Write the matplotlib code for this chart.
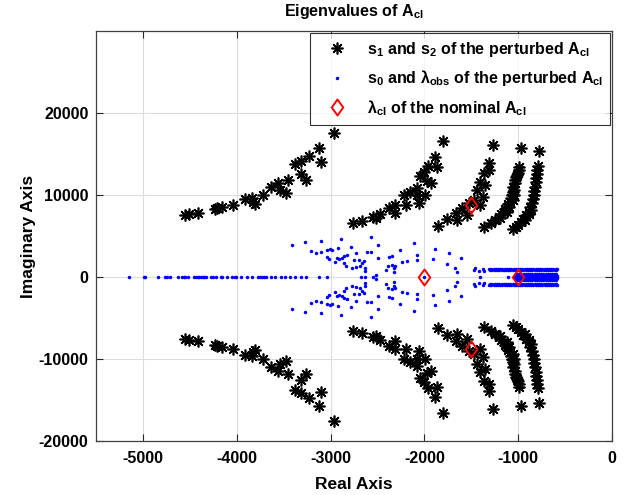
import numpy as np
import matplotlib
matplotlib.use("Agg")
import matplotlib.pyplot as plt
from matplotlib.path import Path

plt.rcParams['font.family'] = ['Liberation Sans', 'DejaVu Sans']
plt.rcParams['mathtext.fontset'] = 'custom'
plt.rcParams['mathtext.rm'] = 'Liberation Sans:bold'
plt.rcParams['mathtext.bf'] = 'Liberation Sans:bold'
plt.rcParams['mathtext.it'] = 'Liberation Sans:bold'
plt.rcParams['mathtext.default'] = 'bf'

# ---- s1, s2 of the perturbed A_cl (upper half; conjugates mirrored) ----
s12_re = [
    # branch A
    -4550, -4507, -4412, -4234, -4213, -4152, -4039, -3915, -3840, -3822, -3805,
    -3720, -3631, -3560, -3543, -3479, -3454, -3380, -3319, -3316, -3258, -3231,
    -3120, -3099, -2961,
    # branch B
    -2763, -2663, -2546, -2521, -2468, -2380, -2308, -2308, -2213, -2191, -2156,
    -2078, -2078, -2061, -2050, -2007, -1989, -1971, -1961, -1929, -1886, -1865,
    -1801,
    # branch C
    -1859, -1758, -1652, -1660, -1599, -1546, -1529, -1468, -1404, -1439, -1376,
    -1412, -1351, -1362, -1316, -1308, -1269,
    # branch D
    -1362, -1290, -1245, -1210, -1191, -1181, -1156, -1138, -1117, -1120, -1106,
    -1096, -1085, -1074, -1067, -1053, -1058, -1056, -1043, -1043, -1032, -1032,
    -1021, -1011, -997, -995, -989, -971,
    # branch E
    -1056, -1021, -997, -968, -944, -926, -915, -890, -883, -872, -862, -855,
    -846, -837, -830, -819, -814, -809, -803, -795, -793, -780,
]
s12_im = [
    7561, 7646, 7841, 8256, 8378, 8500, 8744, 9476, 9598, 9183, 8902,
    10000, 11012, 11427, 10610, 10207, 11829, 13744, 14183, 12561, 11829, 14756,
    15695, 14061, 17597,
    6622, 6866, 7354, 7159, 7683, 8378, 8780, 7841, 10000, 8780, 10402,
    10817, 10000, 8988, 12317, 12841, 10000, 11707, 13537, 11427, 14597, 13378,
    16585,
    6220, 7037, 6951, 7768, 8378, 7561, 9061, 9390, 8780, 10610, 9793,
    11622, 11220, 12646, 13049, 13939, 16097,
    6061, 6549, 6951, 7354, 7171, 7683, 7963, 8293, 7927, 8573, 8902,
    8537, 9183, 9634, 10000, 9390, 10366, 11012, 10610, 10000, 11463, 11829,
    12195, 12439, 12646, 13049, 13451, 15695,
    5817, 6098, 6341, 6707, 7037, 6951, 7561, 7963, 7683, 8537, 8171, 8988,
    9512, 10000, 10488, 11012, 11585, 12037, 12561, 13049, 13537, 15402,
]

# ---- s0 and lambda_obs: complex ones (upper half; conjugates mirrored) ----
obs_re = [
    -3412, -3276, -3106, -2894, -2574, -2114, -1883, -1741, -1610,
    -3205, -3159, -3106, -3042, -3007, -2982, -2922, -2787, -2734, -2617, -2564,
    -2497, -2497, -3035, -3018, -2936, -2912, -2875, -2858, -2830, -2957, -2858,
    -2840, -2769, -2734, -2688, -2663, -2646, -2638, -2628, -2752, -2699, -2380,
    -2344, -2255, -2078, -2078, -2184, -2237, -1907, -1758, -1670, -1652, -2390,
    -2344, -2308, -2327, -2404, -2327, -2521,
    -1476, -1457, -1422, -1376, -1362,
    # upper band near -1000
    -1316, -1290, -1262, -1240, -1215, -1190, -1168, -1142, -1120, -1095, -1072,
    -1050, -1026, -1003, -980, -955, -932, -908, -885, -860, -838, -815, -790,
    -766, -742, -718, -695, -672, -648, -625, -602, -588,
    -1300, -1275, -1250, -1226, -1203, -1178, -1155, -1130, -1108, -1083, -1060,
    -1038, -1014, -992, -968, -944, -920, -896, -872, -850, -826, -802, -778,
    -754, -730, -706, -684, -660, -636, -612, -592,
    # central blob
    -1032, -1010, -986, -962, -940, -916, -893, -870, -846, -822, -800, -776,
    -752, -730, -706, -683, -660, -636, -612, -590,
    -1020, -996, -972, -950, -926, -902, -880, -856, -832, -810, -786, -762,
    -740, -716, -692, -670, -646, -622, -598,
    -1015, -990, -966, -942, -918, -896, -872, -848, -826, -802, -778, -756,
    -732, -708, -686, -662, -638, -614, -592,
]
obs_im = [
    3939, 4232, 4390, 4634, 4915, 4110, 3415, 2890, 2354,
    3207, 2890, 3085, 3293, 3415, 3293, 3500, 3659, 2890, 3085, 3085,
    3902, 2280, 2476, 2195, 2280, 2159, 2354, 2598, 2683, 1866, 1671,
    1378, 1061, 1183, 1378, 1671, 1951, 1061, 768, 2073, 2073, 2476,
    2598, 3293, 2683, 2073, 1951, 1793, 2195, 1549, 1134, 646, 1378,
    1463, 1341, 1061, 854, 646, 244,
    854, 1061, 732, 976, 732,
    1010, 1020, 1005, 1025, 1015, 1010, 1020, 1010, 1025, 1015, 1010,
    1020, 1005, 1020, 1015, 1025, 1010, 1020, 1005, 1015, 1020, 1010, 1025,
    1015, 1005, 1020, 1010, 1025, 1015, 1010, 1020, 1010,
    820, 830, 815, 825, 830, 820, 815, 830, 825, 820, 830,
    815, 825, 830, 820, 815, 830, 825, 820, 815, 830, 825, 820,
    830, 815, 825, 820, 830, 815, 825, 820,
    130, 140, 125, 135, 130, 140, 125, 135, 130, 140, 125, 135,
    130, 140, 125, 135, 130, 140, 125, 135,
    260, 270, 255, 265, 260, 270, 255, 265, 260, 270, 255, 265,
    260, 270, 255, 265, 260, 270, 255,
    380, 390, 375, 385, 380, 390, 375, 385, 380, 390, 375, 385,
    380, 390, 375, 385, 380, 390, 375,
]
# ---- s0 and lambda_obs: real ones ----
obs_axis_re = [
    -5146, -4993, -4975, -4843, -4766, -4745, -4710, -4631, -4588, -4567, -4550,
    -4518, -4454, -4436, -4418, -4401, -4383, -4365, -4348, -4330, -4276, -4248,
    -4223, -4170, -4152, -4106, -4046, -4021, -4003, -3950, -3894, -3833, -3773,
    -3752, -3727, -3709, -3691, -3638, -3592, -3532, -3489, -3433, -3383, -3312,
    -3266, -3124, -3035, -2680, -2628, -2543, -2000, -1404, -1106,
    -1032, -1008, -984, -960, -936, -912, -888, -865, -842, -818, -795, -771,
    -748, -724, -700, -677, -654, -630, -607, -590,
]

# ---- nominal closed-loop eigenvalues ----
nom_re = [-2000, -1000, -1507, -1507]
nom_im = [0, 0, 8780, -8780]

xticks = [-5000, -4000, -3000, -2000, -1000, 0]
yticks = [-20000, -10000, 0, 10000, 20000]

fig = plt.figure(figsize=(6.41, 4.95), dpi=100)
ax = fig.add_axes([0.1498, 0.1091, 0.8050, 0.8283])

s_re = np.array(s12_re, float)
s_im = np.array(s12_im, float)
o_re = np.array(obs_re, float)
o_im = np.array(obs_im, float)
a_re = np.array(obs_axis_re, float)

ast = (8, 2, 0)
h1, = ax.plot(np.concatenate([s_re, s_re]), np.concatenate([s_im, -s_im]),
              linestyle='none', marker=ast, ms=8.5, mew=1.2, color='black',
              label=r's$_1$ and s$_2$ of the perturbed A$_{cl}$')
h2, = ax.plot(np.concatenate([o_re, o_re, a_re]),
              np.concatenate([o_im, -o_im, np.zeros_like(a_re)]),
              linestyle='none', marker='o', ms=2.5, mew=0, color='#0000ff',
              label=r's$_0$ and λ$_{obs}$ of the perturbed A$_{cl}$')
diamond = Path([(0, 1), (0.72, 0), (0, -1), (-0.72, 0), (0, 1)],
               [Path.MOVETO, Path.LINETO, Path.LINETO, Path.LINETO, Path.CLOSEPOLY])
h3, = ax.plot(nom_re, nom_im, linestyle='none', marker=diamond, ms=11.5,
              mew=1.4, mfc='none', mec='red',
              label=r'λ$_{cl}$ of the nominal A$_{cl}$')

ax.set_xlim(-5500, 0)
ax.set_ylim(-20000, 30000)
ax.set_xticks(xticks)
ax.set_yticks(yticks)
ax.set_xticklabels([str(v) for v in xticks], fontweight='bold', fontsize=11.5)
ax.set_yticklabels([str(v) for v in yticks], fontweight='bold', fontsize=11.5)
ax.tick_params(direction='in', length=5, width=0.8, color='#262626',
               top=True, right=True)
ax.tick_params(axis='x', pad=7)
ax.tick_params(axis='y', pad=5.5)
ax.grid(True, color='#dcdcdc', linewidth=0.8)
ax.set_axisbelow(True)
for sp in ax.spines.values():
    sp.set_color('#404040')
    sp.set_linewidth(0.9)

ax.set_xlabel('Real Axis', fontweight='bold', fontsize=12.5, labelpad=8)
ax.set_ylabel('Imaginary Axis', fontweight='bold', fontsize=12.5, labelpad=2)
ax.set_title(r'Eigenvalues of A$_{cl}$', fontweight='bold', fontsize=11.5, pad=11)

leg = ax.legend(handles=[h1, h2, h3], loc='upper right',
                frameon=True, fancybox=False, borderaxespad=0.1,
                labelspacing=0.6, handlelength=2.4, handletextpad=0.7,
                borderpad=0.45, prop={'weight': 'bold', 'size': 11.5})
leg.get_frame().set_edgecolor('black')
leg.get_frame().set_linewidth(0.8)

fig.savefig('out.png', dpi=100)
